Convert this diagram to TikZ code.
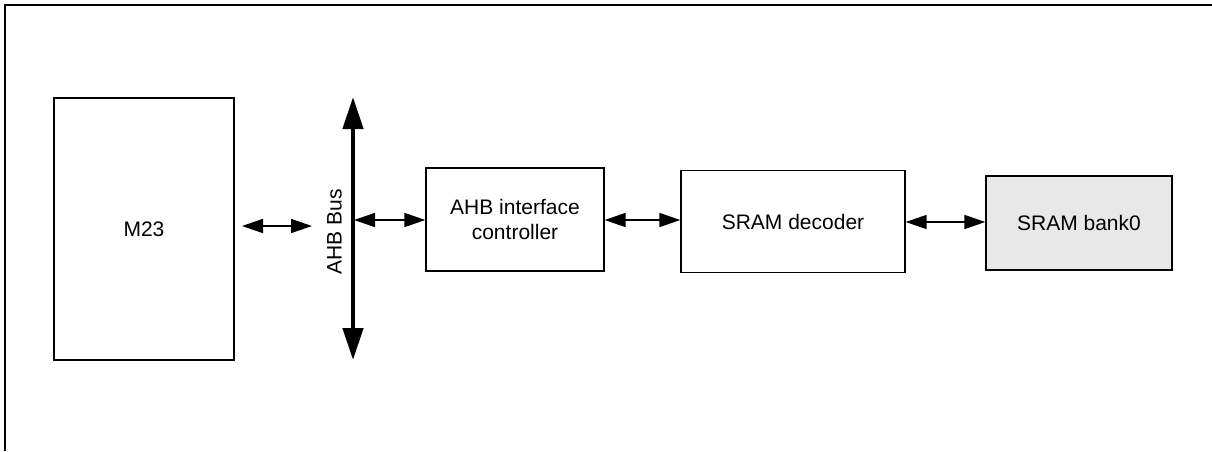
\documentclass[tikz,border=0pt]{standalone}
\usepackage{fontspec}
\setmainfont{Liberation Sans}
\usetikzlibrary{arrows.meta}
\begin{document}
\begin{tikzpicture}[x=1pt,y=-1pt,
  block/.style={draw=black, line width=1.3pt, rectangle, inner sep=0pt,
    font=\fontsize{21}{25.5}\selectfont, align=center},
  biarrow/.style={line width=1.6pt,
    {Triangle[length=21pt,width=14pt]}-{Triangle[length=21pt,width=14pt]}},
  busarrow/.style={line width=4.5pt,
    {Triangle[length=32pt,width=20pt]}-{Triangle[length=32pt,width=20pt]}}
]
\useasboundingbox (0,0) rectangle (1212,451);

% frame (top and left edges only)
\draw[line width=2pt] (5,451) -- (5,5) -- (1212,5);

% blocks
\node[block, minimum width=180pt, minimum height=262pt] (m23) at (144,229) {M23};
\node[block, minimum width=178pt, minimum height=103pt] (ahb) at (515,219.5) {AHB interface\\controller};
\node[block, minimum width=224pt, minimum height=102pt] (dec) at (793,221.5) {SRAM decoder};
\node[block, fill=black!9, minimum width=186pt, minimum height=94pt] (bank) at (1079,223) {SRAM bank0};

% AHB bus
\coordinate (bustop) at (353,97);
\coordinate (busbot) at (353,360);
\draw[busarrow] (bustop) -- (busbot);
\node[rotate=90, font=\fontsize{21}{25.5}\selectfont, anchor=base] (buslbl) at (341.5,232) {AHB Bus};

% connections
\coordinate (m23out) at (242,226);
\coordinate (busin) at (312,226);
\coordinate (busout) at (354,220);
\draw[biarrow] (m23out) -- (busin);
\draw[biarrow] (busout) -- (ahb.west |- busout);
\draw[biarrow] (ahb.east |- 0,220) -- (dec.west |- 0,220);
\draw[biarrow] (dec.east |- 0,222) -- (bank.west |- 0,222);
\end{tikzpicture}
\end{document}
